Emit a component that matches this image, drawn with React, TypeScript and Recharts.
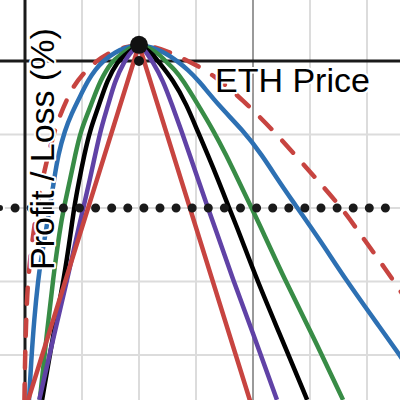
import { LineChart, Line, XAxis, YAxis, CartesianGrid, ReferenceLine, ReferenceDot } from 'recharts';

// visible window, in grid units (x: price step, y: profit step)
const xDomain: [number, number] = [-0.4386, 6.5789];
const yDomain: [number, number] = [-4.6122, 0.8299];

const gridX = [1, 2, 3, 5, 6];
const majorX = [4];
const gridY = [-1, -2, -3, -4];
const dottedLevel = -2;

const peak = { x: 2, y: 0.22 };
const entry = { x: 2, y: 0 };

// [price, profit]
const dashedCurve: [number, number][] = [
  [-0.01, -4.61], [0, -4.07], [0.02, -3.52], [0.05, -2.98], [0.12, -2.5], [0.19, -2.1],
  [0.3, -1.62], [0.44, -1.18], [0.56, -0.83], [0.82, -0.37], [1.0, -0.19], [1.23, -0.01],
  [1.49, 0.12], [1.75, 0.19], [2, 0.22], [2.28, 0.19], [2.54, 0.12], [2.89, -0.01],
  [3.3, -0.18], [3.82, -0.53], [4.35, -0.94], [4.82, -1.35], [5.21, -1.69], [5.61, -2.05],
  [5.96, -2.44], [6.26, -2.76], [6.58, -3.12], [6.75, -3.32],
];

const blueCurve: [number, number][] = [
  [0.07, -4.61], [0.11, -4.07], [0.16, -3.52], [0.23, -2.98], [0.28, -2.71], [0.37, -2.3],
  [0.44, -1.96], [0.51, -1.62], [0.58, -1.28], [0.7, -0.94], [0.82, -0.71], [0.96, -0.49],
  [1.11, -0.26], [1.23, -0.12], [1.37, 0], [1.58, 0.12], [1.79, 0.19], [2, 0.22],
  [2.23, 0.19], [2.46, 0.11], [2.67, 0], [2.86, -0.12], [3.04, -0.26], [3.39, -0.6],
  [3.82, -0.94], [4.16, -1.28], [4.44, -1.62], [4.68, -1.89], [5.18, -2.44], [5.63, -2.98],
  [6.26, -3.66], [6.58, -4.01], [6.75, -4.2],
];

const greenCurve: [number, number][] = [
  [0.26, -4.61], [0.39, -3.66], [0.49, -2.98], [0.61, -2.3], [0.68, -2.0], [0.79, -1.62],
  [0.88, -1.28], [0.98, -0.94], [1.16, -0.6], [1.32, -0.26], [1.53, 0], [1.67, 0.08],
  [1.84, 0.18], [2, 0.22], [2.19, 0.18], [2.37, 0.08], [2.46, 0], [2.63, -0.12],
  [2.77, -0.26], [3.04, -0.6], [3.3, -0.94], [3.53, -1.28], [3.74, -1.62], [3.95, -1.96],
  [4.16, -2.3], [4.56, -2.98], [5.0, -3.66], [5.58, -4.61],
];

const blackCurve: [number, number][] = [
  [0.3, -4.61], [0.51, -3.66], [0.68, -2.98], [0.81, -2.3], [0.86, -2.0], [0.95, -1.62],
  [1.04, -1.28], [1.14, -0.94], [1.3, -0.6], [1.44, -0.26], [1.63, 0], [1.75, 0.08],
  [1.88, 0.16], [2, 0.22], [2.14, 0.16], [2.25, 0.08], [2.33, 0], [2.6, -0.26],
  [2.84, -0.6], [3.02, -0.94], [3.21, -1.28], [3.39, -1.62], [3.56, -1.96], [3.74, -2.3],
  [4.07, -2.98], [4.44, -3.66], [4.95, -4.61],
];

const purpleCurve: [number, number][] = [
  [0.25, -4.61], [0.53, -3.66], [0.74, -2.98], [0.93, -2.3], [1.14, -1.62], [1.32, -0.94],
  [1.46, -0.6], [1.58, -0.26], [1.75, 0], [1.82, 0.08], [1.91, 0.16], [2, 0.22],
  [2.09, 0.16], [2.16, 0.08], [2.23, 0], [2.42, -0.26], [2.58, -0.6], [2.74, -0.94],
  [2.89, -1.28], [3.04, -1.62], [3.19, -1.96], [3.35, -2.3], [3.65, -2.98], [3.98, -3.66],
  [4.42, -4.61],
];

const redCurve: [number, number][] = [
  [-0.1, -5.0], [2, 0.22], [4.1, -5.0],
];

const toRows = (pts: [number, number][]) => pts.map(([x, y]) => ({ x, y }));

const DESMOS = {
  red: '#c74440',
  blue: '#2d70b3',
  green: '#388c46',
  purple: '#6042a6',
  black: '#000000',
};

const LINE_W = 4.5;
const FONT = '"Liberation Sans", Arial, sans-serif';

export default function App() {
  return (
    <div style={{ position: 'absolute', left: 0, top: 0, width: 400, height: 400, background: '#fff' }}>
      <LineChart width={400} height={400} margin={{ top: 0, right: 0, bottom: 0, left: 0 }}>
        <XAxis type="number" dataKey="x" domain={xDomain} allowDataOverflow hide />
        <YAxis type="number" dataKey="y" domain={yDomain} allowDataOverflow hide />
        <CartesianGrid horizontalValues={gridY} verticalValues={gridX} stroke="#dcdcdc" strokeWidth={2} />
        {majorX.map((v) => (
          <ReferenceLine key={v} x={v} stroke="#9a9a9a" strokeWidth={2} />
        ))}
        <ReferenceLine x={0} stroke="#1a1a1a" strokeWidth={3} />
        <ReferenceLine y={0} stroke="#1a1a1a" strokeWidth={3} />

        <Line data={toRows(dashedCurve)} dataKey="y" type="basis" stroke={DESMOS.red} strokeWidth={LINE_W}
          strokeDasharray="16 16" strokeLinecap="round" dot={false} isAnimationActive={false} />
        <Line data={toRows(blueCurve)} dataKey="y" type="basis" stroke={DESMOS.blue} strokeWidth={LINE_W}
          dot={false} isAnimationActive={false} />
        <Line data={toRows(greenCurve)} dataKey="y" type="basis" stroke={DESMOS.green} strokeWidth={LINE_W}
          dot={false} isAnimationActive={false} />
        <Line data={toRows(blackCurve)} dataKey="y" type="basis" stroke={DESMOS.black} strokeWidth={LINE_W}
          dot={false} isAnimationActive={false} />
        <Line data={toRows(purpleCurve)} dataKey="y" type="basis" stroke={DESMOS.purple} strokeWidth={LINE_W}
          dot={false} isAnimationActive={false} />
        <Line data={toRows(redCurve)} dataKey="y" type="linear" stroke={DESMOS.red} strokeWidth={LINE_W}
          dot={false} isAnimationActive={false} />

        {/* dotted level line */}
        <Line data={[{ x: xDomain[0], y: dottedLevel }, { x: xDomain[1], y: dottedLevel }]} dataKey="y" type="linear"
          stroke="#1a1a1a" strokeWidth={9} strokeDasharray="0 16.1" strokeDashoffset={1} strokeLinecap="round"
          dot={false} isAnimationActive={false} />

        <ReferenceDot x={entry.x} y={entry.y} r={5} fill="#111" stroke="none" />
        <ReferenceDot x={peak.x} y={peak.y} r={9} fill="#111" stroke="none" />
      </LineChart>

      <svg width={400} height={400} style={{ position: 'absolute', left: 0, top: 0, pointerEvents: 'none' }}>
        <text x={215} y={92} fontSize={34} fontFamily={FONT} fill="#000"
          stroke="#fff" strokeWidth={4} paintOrder="stroke" strokeLinejoin="round">
          ETH Price
        </text>
        <text x={54} y={149} transform="rotate(-90, 54, 149)" textAnchor="middle" fontSize={34} fontFamily={FONT}
          fill="#000" stroke="#fff" strokeWidth={4} paintOrder="stroke" strokeLinejoin="round">
          Profit / Loss (%)
        </text>
      </svg>
    </div>
  );
}
